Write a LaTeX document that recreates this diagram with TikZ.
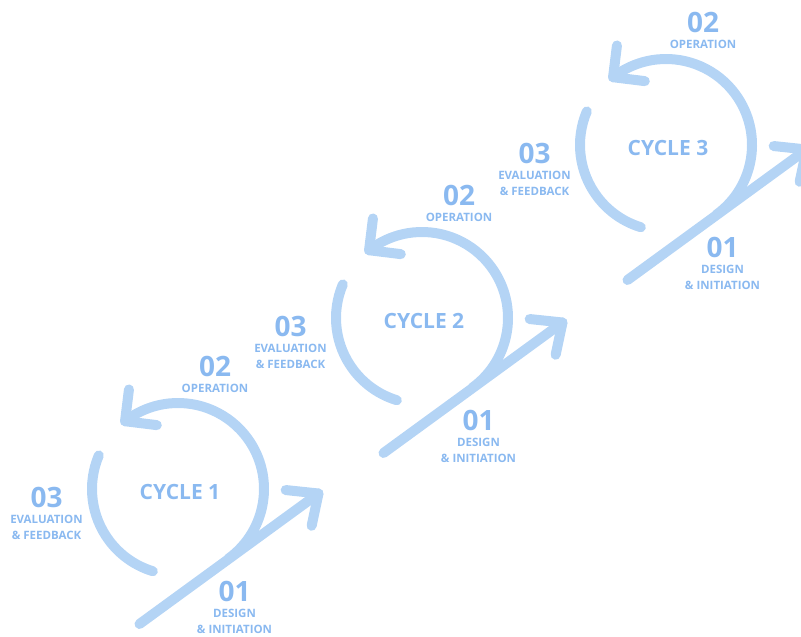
\documentclass[tikz,border=0pt]{standalone}
\usepackage{fontspec}
\setmainfont{Open Sans}
\usepackage{tikz}
\usetikzlibrary{positioning}
\definecolor{looplight}{RGB}{180,212,245}
\definecolor{loopink}{RGB}{138,185,240}

\begin{document}
\begin{tikzpicture}[x=1pt,y=1pt,
    cyclepath/.style={draw=looplight,line width=10pt,line cap=round,line join=round},
    cyclename/.style={text=loopink,font=\bfseries\fontsize{21}{25}\selectfont,inner sep=0pt},
    phasenum/.style={text=loopink,font=\bfseries\fontsize{28}{32}\selectfont,inner sep=0pt},
    phaselbl/.style={text=loopink,font=\bfseries\fontsize{11.5}{15.5}\selectfont,align=center,inner sep=0pt}]

    \useasboundingbox (0,0) rectangle (801,637);
    \clip (0,0) rectangle (801,637);

    % cycle 1
    \begin{scope}[shift={(178,148)}]
        \coordinate (t1) at (-54:86);
        \coordinate (s1) at (-38.5,-135);
        \coordinate (e1) at (140.5,-4.5);
        \coordinate (a1) at (128:86);
        \coordinate (b1) at (157:86);
        \draw[cyclepath] (s1) -- (e1);
        \draw[cyclepath] (e1) ++(174:33) -- (e1) -- ++(258:33);
        \draw[cyclepath] (t1) arc[start angle=-54,end angle=128,radius=86];
        \draw[cyclepath] (a1) ++(83:32) -- (a1) -- ++(-7:32);
        \draw[cyclepath] (b1) arc[start angle=157,end angle=253,radius=86];

        \node[cyclename] (cyc1) at (2,-3.5) {CYCLE 1};
        \node[phasenum] (des1) at (56.5,-102) {01};
        \node[phaselbl,below=7.5pt of des1] (desl1) {DESIGN\\\& INITIATION};
        \node[phasenum] (op1) at (37,122.5) {02};
        \node[phaselbl,below=7pt of op1] (opl1) {OPERATION};
        \node[phasenum] (ev1) at (-131.5,-8) {03};
        \node[phaselbl,below=7.5pt of ev1] (evl1) {EVALUATION\\\& FEEDBACK};
    \end{scope}

    % cycle 2
    \begin{scope}[shift={(422,319)}]
        \coordinate (t2) at (-54:86);
        \coordinate (s2) at (-38.5,-135);
        \coordinate (e2) at (140.5,-4.5);
        \coordinate (a2) at (128:86);
        \coordinate (b2) at (157:86);
        \draw[cyclepath] (s2) -- (e2);
        \draw[cyclepath] (e2) ++(174:33) -- (e2) -- ++(258:33);
        \draw[cyclepath] (t2) arc[start angle=-54,end angle=128,radius=86];
        \draw[cyclepath] (a2) ++(83:32) -- (a2) -- ++(-7:32);
        \draw[cyclepath] (b2) arc[start angle=157,end angle=253,radius=86];

        \node[cyclename] (cyc2) at (2,-3.5) {CYCLE 2};
        \node[phasenum] (des2) at (56.5,-102) {01};
        \node[phaselbl,below=7.5pt of des2] (desl2) {DESIGN\\\& INITIATION};
        \node[phasenum] (op2) at (37,122.5) {02};
        \node[phaselbl,below=7pt of op2] (opl2) {OPERATION};
        \node[phasenum] (ev2) at (-131.5,-8) {03};
        \node[phaselbl,below=7.5pt of ev2] (evl2) {EVALUATION\\\& FEEDBACK};
    \end{scope}

    % cycle 3
    \begin{scope}[shift={(666,492)}]
        \coordinate (t3) at (-54:86);
        \coordinate (s3) at (-38.5,-135);
        \coordinate (e3) at (140.5,-4.5);
        \coordinate (a3) at (128:86);
        \coordinate (b3) at (157:86);
        \draw[cyclepath] (s3) -- (e3);
        \draw[cyclepath] (e3) ++(174:33) -- (e3) -- ++(258:33);
        \draw[cyclepath] (t3) arc[start angle=-54,end angle=128,radius=86];
        \draw[cyclepath] (a3) ++(83:32) -- (a3) -- ++(-7:32);
        \draw[cyclepath] (b3) arc[start angle=157,end angle=253,radius=86];

        \node[cyclename] (cyc3) at (2,-3.5) {CYCLE 3};
        \node[phasenum] (des3) at (56.5,-102) {01};
        \node[phaselbl,below=7.5pt of des3] (desl3) {DESIGN\\\& INITIATION};
        \node[phasenum] (op3) at (37,122.5) {02};
        \node[phaselbl,below=7pt of op3] (opl3) {OPERATION};
        \node[phasenum] (ev3) at (-131.5,-8) {03};
        \node[phaselbl,below=7.5pt of ev3] (evl3) {EVALUATION\\\& FEEDBACK};
    \end{scope}
\end{tikzpicture}
\end{document}
